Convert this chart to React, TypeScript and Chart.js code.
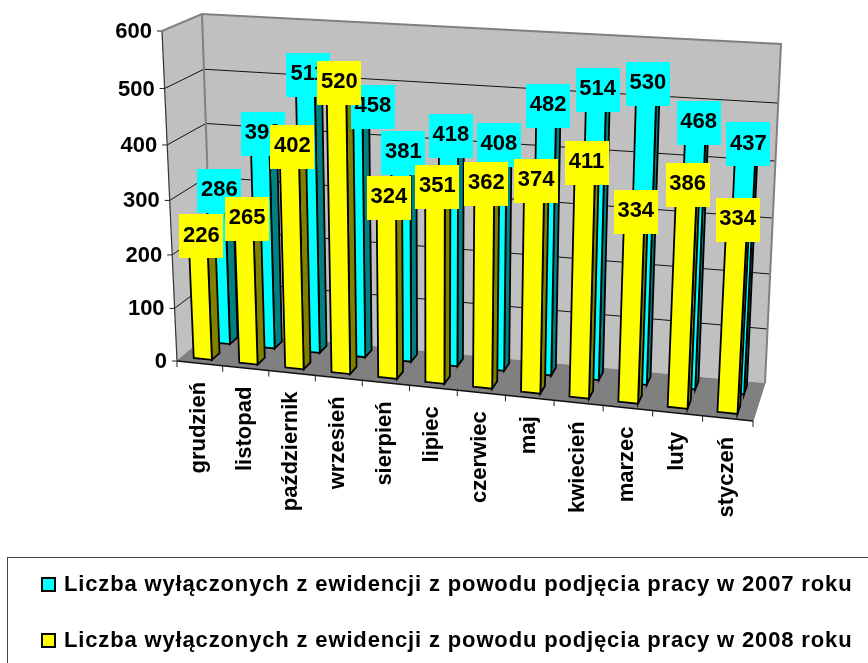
import React, { useEffect, useRef } from "react";
import { Chart, registerables } from "chart.js";

Chart.register(...registerables);

const categories = ["grudzień", "listopad", "październik", "wrzesień", "sierpień", "lipiec", "czerwiec", "maj", "kwiecień", "marzec", "luty", "styczeń"];
const values2007 = [286, 399, 511, 458, 381, 418, 408, 482, 514, 530, 468, 437];
const values2008 = [226, 265, 402, 520, 324, 351, 362, 374, 411, 334, 386, 334];
const label2007 = "Liczba wyłączonych z ewidencji z powodu podjęcia pracy w 2007 roku";
const label2008 = "Liczba wyłączonych z ewidencji z powodu podjęcia pracy w 2008 roku";

type Pt = [number, number];
// Projection frame of the 3D box: F=front, B=back, L/R, B/T
const FLB: Pt = [177, 361], FLT: Pt = [162, 31], FRB: Pt = [753, 421], FRT: Pt = [772, 68];
const BLB: Pt = [213, 331], BLT: Pt = [202, 14], BRB: Pt = [765, 383], BRT: Pt = [781, 44];
const WARP = 0.055;
const BAR_SHIFT = -0.0035;
const LABEL_SHIFT = -2.5;
const warp = (t: number) => t / (1 + WARP - WARP * t);
const mix = (a: Pt, b: Pt, t: number): Pt => [a[0] + (b[0] - a[0]) * t, a[1] + (b[1] - a[1]) * t];
const project = (u: number, v: number, d: number): Pt => {
  const U = warp(u), V = warp(v);
  const f = mix(mix(FLB, FRB, U), mix(FLT, FRT, U), V);
  const b = mix(mix(BLB, BRB, U), mix(BLT, BRT, U), V);
  return mix(f, b, d);
};
const FONT = 'bold 22px "Liberation Sans", Arial, sans-serif';
const depthBands: [number, number][] = [[0.66, 0.88], [0.14, 0.36]];
const faceColors = [
  { front: "#00FFFF", side: "#008080", top: "#00CCCC" },
  { front: "#FFFF00", side: "#808000", top: "#CCCC00" },
];
// the 458 label sits off its bar in the picture
const labelNudge: Record<string, number> = { "0:3": 17, "0:10": 2, "0:11": 2 };

const poly = (ctx: CanvasRenderingContext2D, pts: Pt[], fill: string | null, stroke: string | null, lw = 1) => {
  ctx.beginPath();
  pts.forEach((p, i) => (i ? ctx.lineTo(p[0], p[1]) : ctx.moveTo(p[0], p[1])));
  if (fill) { ctx.closePath(); ctx.fillStyle = fill; ctx.fill(); }
  if (stroke) { ctx.strokeStyle = stroke; ctx.lineWidth = lw; ctx.stroke(); }
};

const scene3d = {
  id: "scene3d",
  beforeDatasetDraw: () => false,
  afterDatasetsDraw(chart: any) {
    const ctx: CanvasRenderingContext2D = chart.ctx;
    const area = chart.chartArea;
    const yS = chart.scales.y, xS = chart.scales.x;
    const U = (px: number) => (px - area.left) / (area.right - area.left);
    const V = (py: number) => (area.bottom - py) / (area.bottom - area.top);
    ctx.save();

    // walls and floor
    poly(ctx, [project(0, 0, 0), project(0, 0, 1), project(0, 1, 1), project(0, 1, 0)], "#C0C0C0", null);
    poly(ctx, [project(0, 0, 1), project(1, 0, 1), project(1, 1, 1), project(0, 1, 1)], "#C0C0C0", null);
    poly(ctx, [project(0, 0, 0), project(1, 0, 0), project(1, 0, 1), project(0, 0, 1)], "#808080", null);

    // grid lines and value axis
    ctx.textAlign = "right";
    ctx.textBaseline = "middle";
    ctx.font = FONT;
    yS.ticks.forEach((t: any) => {
      const v = V(yS.getPixelForValue(t.value));
      if (t.value > 0 && t.value < 600) {
        poly(ctx, [project(0, v, 0), project(0, v, 1), project(1, v, 1)], null, "#111", 1);
      }
      const p = project(0, v, 0);
      poly(ctx, [[p[0] - 5, p[1]], p], null, "#222", 1);
      ctx.fillStyle = "#000";
      ctx.fillText(String(t.value), p[0] - 10, p[1] + 1);
    });
    poly(ctx, [project(0, 0, 0), project(0, 1, 0)], null, "#333", 1.2);
    poly(ctx, [project(0, 1, 0), project(0, 1, 1), project(1, 1, 1), project(1, 0, 1)], null, "#808080", 2);
    poly(ctx, [project(0, 1, 1), project(0, 0, 1)], null, "#808080", 2);
    poly(ctx, [project(0, 0, 0), project(0, 0, 1)], null, "#777", 1);
    poly(ctx, [project(1, 0, 0), project(1, 0, 1)], null, "#777", 1);
    poly(ctx, [project(0, 0, 0), project(1, 0, 0)], null, "#111", 1.4);

    // category ticks and labels
    const n = categories.length;
    for (let i = 0; i <= n; i++) {
      const p = project(i / n, 0, 0);
      poly(ctx, [p, [p[0], p[1] + 6]], null, "#222", 1);
    }
    xS.getLabels().forEach((lab: string, i: number) => {
      const p = project(U(xS.getPixelForValue(i)), 0, 0);
      ctx.save();
      ctx.translate(p[0] - 1, p[1] + 18.5);
      ctx.rotate(-Math.PI / 2);
      ctx.textAlign = "right";
      ctx.textBaseline = "middle";
      ctx.fillStyle = "#000";
      ctx.fillText(lab, 0, 0);
      ctx.restore();
    });

    // bars, back series first
    [0, 1].forEach((ds) => {
      const [d0, d1] = depthBands[ds];
      const c = faceColors[ds];
      chart.getDatasetMeta(ds).data.forEach((bar: any) => {
        const u0 = U(bar.x - bar.width / 2) + BAR_SHIFT, u1 = U(bar.x + bar.width / 2) + BAR_SHIFT, v = V(bar.y);
        poly(ctx, [project(u0, v, d0), project(u1, v, d0), project(u1, v, d1), project(u0, v, d1)], c.top, "#000", 1.8);
        poly(ctx, [project(u1, 0, d0), project(u1, 0, d1), project(u1, v, d1), project(u1, v, d0)], c.side, "#000", 1.8);
        poly(ctx, [project(u0, 0, d0), project(u1, 0, d0), project(u1, v, d0), project(u0, v, d0)], c.front, "#000", 1.8);
      });
    });

    // value labels
    ctx.font = FONT;
    ctx.textAlign = "center";
    ctx.textBaseline = "middle";
    [0, 1].forEach((ds) => {
      const [d0, d1] = depthBands[ds];
      const c = faceColors[ds];
      const vals = chart.data.datasets[ds].data;
      chart.getDatasetMeta(ds).data.forEach((bar: any, i: number) => {
        const p = project(U(bar.x), V(bar.y), (d0 + d1) / 2);
        const px = p[0] + LABEL_SHIFT + (labelNudge[ds + ":" + i] || 0);
        ctx.fillStyle = c.front;
        ctx.fillRect(Math.round(px - 22), Math.round(p[1] - 22), 44, 44);
        ctx.fillStyle = "#000";
        ctx.fillText(String(vals[i]), px, p[1] - 1);
      });
    });

    // legend
    ctx.strokeStyle = "#444";
    ctx.lineWidth = 1;
    ctx.strokeRect(7.5, 557.5, 900, 200);
    ctx.textAlign = "left";
    chart.data.datasets.forEach((dset: any, i: number) => {
      const y = 577 + i * 56;
      ctx.fillStyle = dset.backgroundColor;
      ctx.fillRect(41, y, 15, 15);
      ctx.strokeStyle = "#000";
      ctx.lineWidth = 2;
      ctx.strokeRect(42, y + 1, 13, 13);
      ctx.fillStyle = "#000";
      ctx.font = FONT;
      (ctx as any).letterSpacing = "0.85px";
      ctx.fillText(dset.label, 64, y + 8);
      (ctx as any).letterSpacing = "0px";
    });
    ctx.restore();
  },
};

export default function App() {
  const ref = useRef<HTMLCanvasElement>(null);
  useEffect(() => {
    const chart = new Chart(ref.current!, {
      type: "bar",
      data: {
        labels: categories,
        datasets: [
          { label: label2007, data: values2007, backgroundColor: "#00FFFF", grouped: false, barPercentage: 0.4, categoryPercentage: 1 },
          { label: label2008, data: values2008, backgroundColor: "#FFFF00", grouped: false, barPercentage: 0.4, categoryPercentage: 1 },
        ],
      } as any,
      options: {
        responsive: false,
        animation: false,
        plugins: { legend: { display: false }, tooltip: { enabled: false }, title: { display: false } },
        scales: {
          x: { display: false },
          y: { display: false, min: 0, max: 600, ticks: { stepSize: 100 } },
        },
      },
      plugins: [scene3d],
    } as any);
    return () => chart.destroy();
  }, []);
  return (
    <div style={{ position: "fixed", left: 0, top: 0, width: 868, height: 663, background: "#fff" }}>
      <canvas ref={ref} width={868} height={663} style={{ display: "block" }} />
    </div>
  );
}
